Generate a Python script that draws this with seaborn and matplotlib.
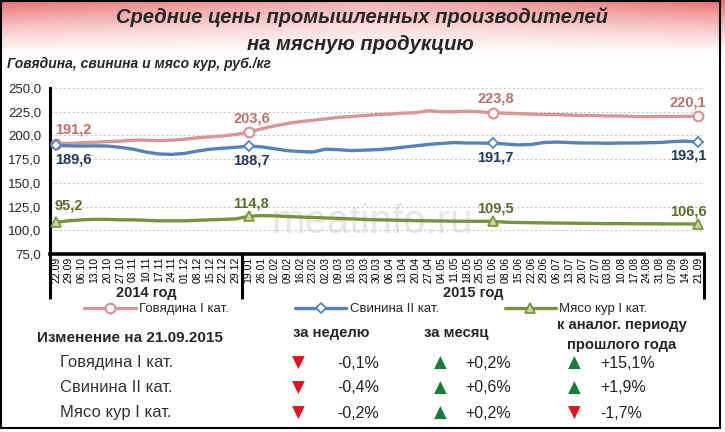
import numpy as np
import pandas as pd
import matplotlib
matplotlib.use("Agg")
import matplotlib.pyplot as plt
import seaborn as sns
from matplotlib import font_manager as fm
from matplotlib.transforms import blended_transform_factory
from matplotlib.lines import Line2D
from matplotlib.patches import Rectangle

# ---------------- data ----------------
dates = ["22.09", "29.09", "06.10", "13.10", "20.10", "27.10", "03.11", "10.11", "17.11",
         "24.11", "01.12", "08.12", "15.12", "22.12", "29.12",
         "19.01", "26.01", "02.02", "09.02", "16.02", "23.02", "02.03", "09.03", "16.03",
         "23.03", "30.03", "06.04", "13.04", "20.04", "27.04", "04.05", "11.05", "18.05",
         "25.05", "01.06", "08.06", "15.06", "22.06", "29.06", "06.07", "13.07", "20.07",
         "27.07", "03.08", "10.08", "17.08", "24.08", "31.08", "07.09", "14.09", "21.09"]
years = ["2014 год", "2015 год"]
first_2015 = "19.01"

beef = [191.2, 191.6, 192.3, 192.8, 193.5, 194.0, 195.0, 195.0, 194.5, 195.0, 196.0, 197.5,
        198.5, 199.5, 201.0, 203.6, 207.0, 210.0, 212.5, 214.5, 216.0, 217.5, 219.0, 220.0,
        221.0, 222.0, 222.5, 223.5, 224.0, 226.0, 225.0, 225.0, 225.5, 225.0, 223.8, 223.5,
        223.0, 222.5, 222.0, 222.0, 221.5, 221.0, 221.0, 220.5, 220.5, 220.0, 219.8, 220.0,
        220.0, 220.2, 220.1]
pork = [189.6, 189.0, 188.8, 189.0, 188.8, 187.5, 185.5, 182.5, 180.5, 180.0, 181.0, 183.5,
        185.5, 186.5, 187.5, 188.7, 188.0, 186.0, 184.0, 183.0, 182.5, 185.5, 185.0, 184.0,
        184.5, 185.0, 186.0, 187.5, 189.0, 190.5, 191.5, 192.5, 192.0, 192.0, 191.7, 191.0,
        190.0, 190.5, 192.5, 193.0, 192.5, 192.0, 192.0, 191.7, 192.0, 192.0, 192.3, 192.5,
        193.5, 194.0, 193.1]
chicken = [108.5, 110.0, 111.0, 111.5, 111.5, 111.0, 111.0, 110.5, 110.0, 110.0, 110.0, 110.5,
           111.0, 111.5, 112.0, 114.8, 115.5, 115.2, 114.5, 114.0, 113.5, 113.0, 112.5, 112.0,
           111.5, 111.0, 110.8, 110.5, 110.2, 110.0, 109.8, 109.6, 109.5, 109.5, 109.5, 108.5,
           108.2, 108.0, 107.8, 107.6, 107.5, 107.3, 107.2, 107.0, 107.0, 106.9, 106.8, 106.8,
           106.7, 106.7, 106.6]

series_names = ["Говядина I кат.", "Свинина II кат.", "Мясо кур I кат."]
marked_idx = [0, 15, 34, 50]
beef_labels = ["191,2", "203,6", "223,8", "220,1"]
pork_labels = ["189,6", "188,7", "191,7", "193,1"]
chicken_labels = ["95,2", "114,8", "109,5", "106,6"]

y_ticks = [75, 100, 125, 150, 175, 200, 225, 250]

title_lines = ["Средние цены промышленных производителей", "на мясную продукцию"]
subtitle = "Говядина, свинина и мясо кур, руб./кг"
watermark = "meatinfo.ru"

table_title = "Изменение на 21.09.2015"
table_headers = ["за неделю", "за месяц", "к аналог. периоду\nпрошлого года"]
table_rows = ["Говядина I кат.", "Свинина II кат.", "Мясо кур I кат."]
chg_week = ["-0,1%", "-0,4%", "-0,2%"]
chg_month = ["+0,2%", "+0,6%", "+0,2%"]
chg_year = ["+15,1%", "+1,9%", "-1,7%"]

# ---------------- style ----------------
sns.set_theme(style="white")
names = {f.name for f in fm.fontManager.ttflist}
NARROW = "Liberation Sans Narrow" if "Liberation Sans Narrow" in names else "Liberation Sans"
plt.rcParams["font.family"] = ["Liberation Sans", "DejaVu Sans"]

PINK, BLUE, GREEN = "#D99694", "#5482BC", "#77933C"
PINK_T, BLUE_T, GREEN_T = "#C0706C", "#1F3A5F", "#5A6E2A"

W, H = 725, 432
fig = plt.figure(figsize=(W / 100, H / 100), dpi=100)

def fx(px):
    return px / W

def fy(py):
    return 1 - py / H

# background gradient + frame
bg = fig.add_axes([0, 0, 1, 1], zorder=-10)
bg.set_xlim(0, W)
bg.set_ylim(H, 0)
bg.axis("off")
gh, gw = 80, 240
yy, xx = np.mgrid[0:gh, 0:gw]
t = np.clip(1 - yy / (gh - 1), 0, 1) ** 1.4
c = 0.55 + 0.45 * np.abs(xx / (gw - 1) - 0.5) * 2
a = (t * c)[..., None]
base = np.array([232, 110, 110]) / 255.0
img = (1 - a) * 1.0 + a * base
bg.imshow(img, extent=[0, W, 58, 0], aspect="auto", interpolation="bilinear")
bg.add_patch(Rectangle((1, 1), 719, 427, fill=False, edgecolor="black", lw=1.5))

# titles
fig.text(fx(362), fy(17), title_lines[0], ha="center", va="center", fontsize=14.5,
         fontweight="bold", style="italic", family=NARROW)
fig.text(fx(360), fy(44), title_lines[1], ha="center", va="center", fontsize=14.5,
         fontweight="bold", style="italic", family=NARROW)
fig.text(fx(7), fy(64), subtitle, ha="left", va="center", fontsize=10,
         fontweight="bold", style="italic", family=NARROW)

# ---------------- main chart ----------------
ax = fig.add_axes([fx(49.6), fy(254), (704.4 - 49.6) / W, (254 - 88) / H])
ax.set_facecolor("none")
x = np.arange(len(dates))
df = pd.DataFrame({"x": x, "beef": beef, "pork": pork, "chicken": chicken})

ax.text(0.492, 0.19, watermark, transform=ax.transAxes, ha="center", va="center",
        fontsize=29, color="#E6E6E6", zorder=0)

sns.lineplot(data=df, x="x", y="beef", ax=ax, color=PINK, lw=2.4, marker="o",
             markevery=marked_idx, markersize=7, markerfacecolor="white",
             markeredgecolor=PINK, markeredgewidth=1.6, zorder=3)
sns.lineplot(data=df, x="x", y="pork", ax=ax, color=BLUE, lw=2.4, marker="D",
             markevery=marked_idx, markersize=5, markerfacecolor="white",
             markeredgecolor=BLUE, markeredgewidth=1.3, zorder=3)
sns.lineplot(data=df, x="x", y="chicken", ax=ax, color=GREEN, lw=2.4, marker="^",
             markevery=marked_idx, markersize=7, markerfacecolor="#C3D69B",
             markeredgecolor=GREEN, markeredgewidth=1.2, zorder=3)

ax.set_xlim(-0.5, len(dates) - 0.5)
ax.set_ylim(y_ticks[0], y_ticks[-1])
ax.set_xlabel("")
ax.set_ylabel("")

ax.set_xticks(x)
ax.set_xticklabels(dates, rotation=90, fontsize=7.5, family=NARROW)
ax.set_xticks(np.arange(-0.5, len(dates), 1), minor=True)
ax.tick_params(axis="x", which="major", length=0, pad=2, colors="black")
ax.tick_params(axis="x", which="minor", length=3, width=1.2, direction="out", color="black")
ax.set_yticks(y_ticks)
ax.set_yticklabels([f"{v:.1f}".replace(".", ",") for v in y_ticks], fontsize=9.5)
ax.tick_params(axis="y", length=4, width=1.5, direction="out", color="black", pad=2)

for s in ["top", "right"]:
    ax.spines[s].set_visible(False)
ax.spines["left"].set_linewidth(2.2)
ax.spines["left"].set_color("black")
ax.spines["bottom"].set_linewidth(2.6)
ax.spines["bottom"].set_color("black")
ax.yaxis.grid(True, color="#C8C8C8", linestyle=(0, (2, 2)), lw=0.8)
ax.xaxis.grid(False)
ax.set_axisbelow(True)

# data labels
label_sets = [(beef, beef_labels, PINK_T, 10), (pork, pork_labels, BLUE_T, -10),
              (chicken, chicken_labels, GREEN_T, 9)]
n = len(marked_idx)
for vals, labs, col, dy in label_sets:
    for k, (i, lab) in enumerate(zip(marked_idx, labs)):
        if k == 0:
            ha, dx = "left", -1
        elif k == n - 1:
            ha, dx = "right", 6
        else:
            ha, dx = "center", 2
        dyy = dy + (3 if (vals is chicken and k == 0) else 0)
        ax.annotate(lab, (i, vals[i]), xytext=(dx, dyy), textcoords="offset points",
                    ha=ha, va="center", fontsize=10.5, fontweight="bold", color=col, zorder=5)

# group separators and year labels
trans = blended_transform_factory(ax.transData, ax.transAxes)
split = dates.index(first_2015)
for xv in [-0.5, split - 0.5, len(dates) - 0.5]:
    ax.plot([xv, xv], [0, -0.27], transform=trans, color="black", lw=2.2,
            clip_on=False, solid_capstyle="butt")
centers = [(split - 1) / 2, (split + len(dates) - 1) / 2]
for cx, yl in zip(centers, years):
    ax.text(cx, -0.235, yl, transform=trans, ha="center", va="center",
            fontsize=10.5, fontweight="bold")

# legend
handles = [
    Line2D([], [], color=PINK, lw=2.4, marker="o", markersize=7, markerfacecolor="white",
           markeredgecolor=PINK, markeredgewidth=1.6),
    Line2D([], [], color=BLUE, lw=2.4, marker="D", markersize=5, markerfacecolor="white",
           markeredgecolor=BLUE, markeredgewidth=1.3),
    Line2D([], [], color=GREEN, lw=2.4, marker="^", markersize=7, markerfacecolor="#C3D69B",
           markeredgecolor=GREEN, markeredgewidth=1.2),
]
fig.legend(handles, series_names, loc="center", bbox_to_anchor=(fx(366), fy(309)), ncol=3,
           frameon=False, handlelength=3.9, handletextpad=0.25, columnspacing=5.0,
           fontsize=9.5)

# ---------------- table ----------------
fig.text(fx(37), fy(338), table_title, ha="left", va="center", fontsize=11, fontweight="bold")
fig.text(fx(331), fy(333), table_headers[0], ha="center", va="center", fontsize=10.7,
         fontweight="bold")
fig.text(fx(456), fy(333), table_headers[1], ha="center", va="center", fontsize=10.7,
         fontweight="bold")
fig.text(fx(622), fy(335), table_headers[2], ha="center", va="center", fontsize=10.7,
         fontweight="bold", linespacing=1.55)

row_y = [363, 388, 413]
col_tri = [298, 440, 574]
col_val = [337, 465, 600]
RED, DGREEN = "#E0141E", "#1C7A3C"
for r, (ry, name) in enumerate(zip(row_y, table_rows)):
    fig.text(fx(60), fy(ry), name, ha="left", va="center", fontsize=12, color="#333333")
    for cidx, col in enumerate([chg_week, chg_month, chg_year]):
        v = col[r]
        up = v.startswith("+")
        fig.text(fx(col_tri[cidx]), fy(ry), "▲" if up else "▼", ha="center", va="center",
                 fontsize=12, color=DGREEN if up else RED, family="DejaVu Sans")
        fig.text(fx(col_val[cidx]), fy(ry), v, ha="left", va="center", fontsize=11.5,
                 color="#222222")

fig.savefig("out.png", dpi=100)
